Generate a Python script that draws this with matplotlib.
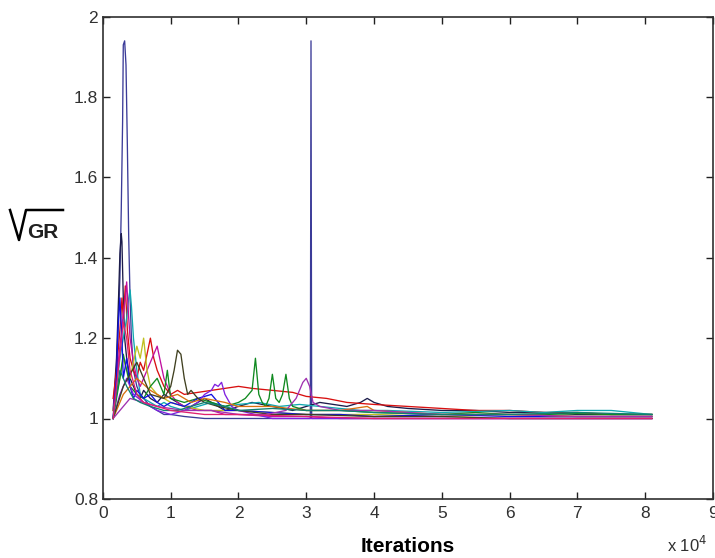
import matplotlib
matplotlib.use("Agg")
import matplotlib.pyplot as plt
from matplotlib.lines import Line2D

# iterations in units of 1e4, GR values
navy_x = [0.15, 0.18, 0.2, 0.22, 0.25, 0.27, 0.29, 0.3, 0.32, 0.34, 0.36, 0.38, 0.4, 0.42, 0.45, 0.5,
          0.55, 0.6, 0.7, 0.8, 0.9, 1.0, 1.2, 1.5, 1.8, 2.0, 2.5, 3.0, 3.06, 3.07, 3.08, 3.1, 3.5,
          4.0, 5.0, 6.0, 7.0, 8.1]
navy_y = [1.0, 1.08, 1.12, 1.2, 1.35, 1.52, 1.74, 1.93, 1.94, 1.88, 1.68, 1.45, 1.3, 1.2, 1.12, 1.08,
          1.06, 1.05, 1.03, 1.02, 1.01, 1.01, 1.005, 1.0, 1.0, 1.0, 1.0, 1.0, 1.0, 1.94, 1.0, 1.0, 1.0,
          1.0, 1.0, 1.0, 1.0, 1.0]

dark_x = [0.15, 0.2, 0.23, 0.25, 0.27, 0.28, 0.3, 0.32, 0.35, 0.38, 0.4, 0.45, 0.5, 0.55, 0.6, 0.7,
          0.8, 0.9, 1.0, 1.1, 1.2, 1.3, 1.4, 1.5, 1.6, 1.7, 1.8, 2.0, 2.2, 2.5, 2.8, 3.0, 3.2, 3.4,
          3.6, 3.8, 3.9, 4.0, 4.2, 4.5, 5.0, 5.5, 6.0, 6.5, 7.0, 7.5, 8.1]
dark_y = [1.02, 1.15, 1.3, 1.41, 1.46, 1.44, 1.3, 1.2, 1.15, 1.12, 1.1, 1.08, 1.06, 1.05, 1.07, 1.05,
          1.04, 1.06, 1.05, 1.04, 1.03, 1.03, 1.04, 1.05, 1.04, 1.03, 1.02, 1.03, 1.04, 1.03, 1.02,
          1.03, 1.04, 1.035, 1.03, 1.04, 1.05, 1.04, 1.03, 1.025, 1.02, 1.02, 1.015, 1.015, 1.01,
          1.01, 1.01]

red_x = [0.15, 0.2, 0.25, 0.28, 0.3, 0.33, 0.36, 0.4, 0.45, 0.5, 0.55, 0.6, 0.65, 0.7, 0.75, 0.8,
         0.9, 1.0, 1.1, 1.2, 1.4, 1.6, 1.8, 2.0, 2.2, 2.5, 2.8, 3.0, 3.3, 3.6, 4.0, 4.5, 5.0, 5.5,
         6.0, 6.5, 7.0, 7.5, 8.1]
red_y = [1.05, 1.12, 1.22, 1.3, 1.25, 1.33, 1.22, 1.15, 1.12, 1.1, 1.14, 1.12, 1.16, 1.2, 1.15, 1.12,
         1.08, 1.06, 1.07, 1.06, 1.065, 1.07, 1.075, 1.08, 1.075, 1.07, 1.065, 1.055, 1.05, 1.04,
         1.035, 1.03, 1.025, 1.02, 1.02, 1.015, 1.015, 1.01, 1.01]

cyan_x = [0.15, 0.2, 0.25, 0.3, 0.35, 0.38, 0.4, 0.42, 0.45, 0.5, 0.55, 0.6, 0.7, 0.8, 0.9, 1.0,
          1.2, 1.4, 1.6, 1.8, 2.0, 2.3, 2.6, 2.9, 3.2, 3.5, 3.8, 4.2, 5.0, 6.0, 6.5, 7.0, 7.5, 7.8, 8.1]
cyan_y = [1.0, 1.08, 1.15, 1.2, 1.25, 1.3, 1.32, 1.28, 1.2, 1.12, 1.06, 1.05, 1.04, 1.03, 1.04, 1.03,
          1.02, 1.03, 1.04, 1.03, 1.035, 1.04, 1.03, 1.035, 1.03, 1.025, 1.02, 1.02, 1.015, 1.02,
          1.015, 1.02, 1.02, 1.015, 1.01]

magenta_x = [0.15, 0.2, 0.25, 0.3, 0.33, 0.35, 0.38, 0.4, 0.45, 0.5, 0.55, 0.6, 0.65, 0.7, 0.75,
             0.8, 0.85, 0.9, 1.0, 1.1, 1.2, 1.4, 1.6, 1.8, 2.0, 2.5, 3.0, 3.5, 4.0, 5.0, 6.0, 7.0, 8.1]
magenta_y = [1.02, 1.1, 1.18, 1.26, 1.3, 1.34, 1.25, 1.2, 1.14, 1.1, 1.08, 1.1, 1.12, 1.14, 1.16,
             1.18, 1.14, 1.1, 1.06, 1.04, 1.03, 1.02, 1.02, 1.01, 1.01, 1.005, 1.005, 1.0, 1.0, 1.0,
             1.0, 1.0, 1.0]

olive_x = [0.15, 0.2, 0.25, 0.3, 0.35, 0.4, 0.45, 0.5, 0.55, 0.6, 0.65, 0.7, 0.8, 0.9, 1.0, 1.2,
           1.5, 2.0, 2.5, 3.0, 3.5, 4.0, 5.0, 6.0, 7.0, 8.1]
olive_y = [1.02, 1.06, 1.1, 1.15, 1.12, 1.1, 1.14, 1.18, 1.15, 1.2, 1.12, 1.08, 1.06, 1.05, 1.04,
           1.03, 1.02, 1.02, 1.015, 1.01, 1.01, 1.01, 1.005, 1.01, 1.005, 1.005]

green_x = [0.15, 0.2, 0.25, 0.3, 0.35, 0.4, 0.5, 0.6, 0.7, 0.8, 0.9, 0.95, 1.0, 1.2, 1.4, 1.6, 1.8,
           2.0, 2.1, 2.2, 2.25, 2.3, 2.35, 2.4, 2.45, 2.5, 2.55, 2.6, 2.65, 2.7, 2.75, 2.8, 3.0, 3.5,
           4.0, 5.0, 5.5, 6.0, 6.5, 7.0, 7.5, 8.1]
green_y = [1.0, 1.05, 1.1, 1.16, 1.12, 1.08, 1.06, 1.05, 1.08, 1.1, 1.06, 1.12, 1.05, 1.04, 1.05,
           1.04, 1.03, 1.04, 1.05, 1.07, 1.15, 1.06, 1.04, 1.03, 1.05, 1.11, 1.05, 1.04, 1.06, 1.11,
           1.05, 1.03, 1.02, 1.02, 1.015, 1.01, 1.015, 1.01, 1.01, 1.012, 1.01, 1.01]

blue_x = [0.15, 0.2, 0.22, 0.25, 0.28, 0.3, 0.35, 0.4, 0.45, 0.5, 0.6, 0.7, 0.8, 0.9, 1.0, 1.2, 1.4,
          1.6, 1.7, 1.8, 2.0, 2.5, 3.0, 3.5, 4.0, 5.0, 6.0, 7.0, 8.1]
blue_y = [1.0, 1.1, 1.22, 1.3, 1.2, 1.1, 1.15, 1.08, 1.05, 1.07, 1.05, 1.06, 1.04, 1.03, 1.04, 1.03,
          1.05, 1.06, 1.04, 1.02, 1.02, 1.015, 1.01, 1.01, 1.005, 1.01, 1.005, 1.005, 1.005]

purple_x = [0.15, 0.25, 0.35, 0.45, 0.6, 0.8, 1.0, 1.2, 1.4, 1.5, 1.6, 1.65, 1.7, 1.75, 1.8, 1.9,
            2.0, 2.5, 3.0, 4.0, 5.0, 6.0, 7.0, 8.1]
purple_y = [1.0, 1.06, 1.1, 1.06, 1.04, 1.02, 1.01, 1.02, 1.04, 1.06, 1.07, 1.085, 1.08, 1.09, 1.06,
            1.03, 1.02, 1.0, 1.0, 1.0, 1.0, 1.0, 1.0, 1.0]

orange_x = [0.15, 0.3, 0.5, 0.7, 0.9, 1.1, 1.3, 1.5, 1.8, 2.0, 2.5, 3.0, 3.5, 3.9, 4.0, 4.5, 5.0,
            6.0, 7.0, 8.1]
orange_y = [1.0, 1.06, 1.1, 1.07, 1.05, 1.06, 1.04, 1.05, 1.04, 1.03, 1.03, 1.02, 1.02, 1.03, 1.02,
            1.015, 1.01, 1.01, 1.005, 1.005]

darkolive_x = [0.15, 0.3, 0.5, 0.7, 0.9, 1.0, 1.05, 1.1, 1.15, 1.2, 1.25, 1.3, 1.4, 1.5, 1.7, 2.0,
               2.5, 3.0, 4.0, 5.0, 6.0, 7.0, 8.1]
darkolive_y = [1.0, 1.08, 1.14, 1.06, 1.05, 1.08, 1.12, 1.17, 1.16, 1.1, 1.06, 1.07, 1.05, 1.04,
               1.03, 1.02, 1.01, 1.01, 1.005, 1.005, 1.0, 1.0, 1.0]

violet_x = [0.15, 0.4, 0.8, 1.2, 1.6, 2.0, 2.4, 2.7, 2.85, 2.95, 3.0, 3.05, 3.1, 3.2, 3.5, 4.0,
            4.5, 5.0, 6.0, 7.0, 8.1]
violet_y = [1.0, 1.05, 1.03, 1.02, 1.02, 1.01, 1.01, 1.02, 1.05, 1.09, 1.1, 1.08, 1.04, 1.03, 1.02,
            1.02, 1.015, 1.01, 1.01, 1.005, 1.005]

teal_x = [0.15, 0.25, 0.35, 0.45, 0.55, 0.7, 0.9, 1.1, 1.3, 1.5, 1.8, 2.0, 2.5, 3.0, 3.5, 4.0, 5.0,
          6.0, 7.0, 8.1]
teal_y = [1.0, 1.12, 1.08, 1.05, 1.04, 1.03, 1.02, 1.02, 1.03, 1.04, 1.03, 1.02, 1.025, 1.02, 1.02,
          1.015, 1.01, 1.01, 1.015, 1.01]

pink_x = [0.15, 0.2, 0.25, 0.3, 0.35, 0.4, 0.5, 0.6, 0.8, 1.0, 1.5, 2.0, 3.0, 4.0, 5.0, 6.0, 7.0, 8.1]
pink_y = [1.0, 1.08, 1.16, 1.24, 1.2, 1.12, 1.06, 1.04, 1.03, 1.02, 1.01, 1.01, 1.005, 1.0, 1.0,
          1.0, 1.0, 1.0]

series = [
    (navy_x, navy_y, "#3b3b98"),
    (dark_x, dark_y, "#1c1c4a"),
    (red_x, red_y, "#d81010"),
    (cyan_x, cyan_y, "#10a8b0"),
    (magenta_x, magenta_y, "#c010a0"),
    (olive_x, olive_y, "#c0c020"),
    (green_x, green_y, "#108a20"),
    (blue_x, blue_y, "#1010e0"),
    (purple_x, purple_y, "#8020e0"),
    (orange_x, orange_y, "#d87010"),
    (darkolive_x, darkolive_y, "#404020"),
    (violet_x, violet_y, "#a030b0"),
    (teal_x, teal_y, "#108070"),
    (pink_x, pink_y, "#e02070"),
]

plt.rcParams["font.family"] = ["Liberation Sans", "DejaVu Sans"]

fig = plt.figure(figsize=(7.15, 5.58), dpi=100)
ax = fig.add_axes([0.144, 0.106, 0.853, 0.864])

for xs, ys, c in series:
    ax.plot(xs, ys, color=c, linewidth=0.95)

ax.set_xlim(0, 9)
ax.set_ylim(0.8, 2.0)
ax.set_xticks(range(10))
ax.set_xticklabels([str(i) for i in range(10)])
ax.set_yticks([0.8, 1.0, 1.2, 1.4, 1.6, 1.8, 2.0])
ax.set_yticklabels(["0.8", "1", "1.2", "1.4", "1.6", "1.8", "2"])
ax.tick_params(direction="in", length=5, width=1, top=True, right=True,
               labelsize=12.5, colors="#202020", labelcolor="#303030")
ax.tick_params(axis="x", pad=5)
for sp in ax.spines.values():
    sp.set_linewidth(1.2)
    sp.set_color("#303030")

ax.set_xlabel("Iterations", fontsize=15, fontweight="bold", labelpad=12)

# y label: radical sign drawn as a line, GR as text (matlab style)
H = 558
rad = Line2D([10, 19, 26, 63], [H - 210, H - 240, H - 210, H - 210], color="black",
             linewidth=1.8, transform=None)
fig.add_artist(rad)
fig.text(27 / 715, (H - 238) / H, "GR", fontsize=15, fontweight="bold", ha="left",
         va="baseline", color="#202020")

fig.text(667 / 715, (H - 552) / H, r"x 10$^{4}$", fontsize=12, ha="left", va="baseline",
         color="#303030")

fig.savefig("out.png", dpi=100)
